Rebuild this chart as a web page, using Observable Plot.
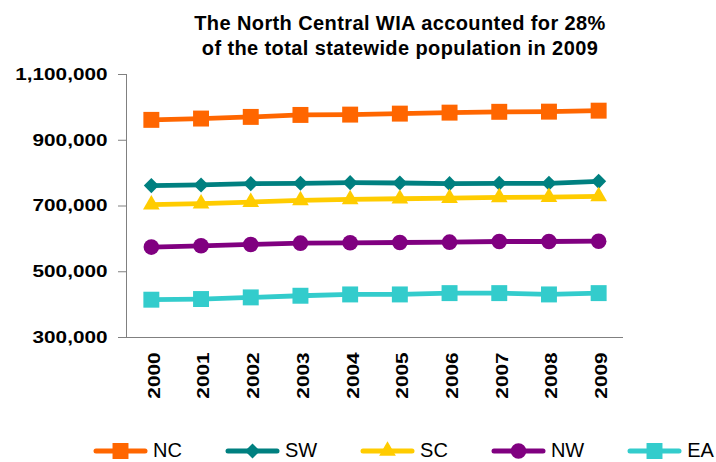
<!DOCTYPE html>
<html><head><meta charset="utf-8">
<script src="https://cdn.jsdelivr.net/npm/d3@7"></script>
<script src="https://cdn.jsdelivr.net/npm/@observablehq/plot@0.6"></script>
<style>
html,body{margin:0;padding:0;background:#fff;}
body{width:716px;height:462px;overflow:hidden;font-family:"Liberation Sans",Arial,sans-serif;color:#000;}
#title{height:60px;box-sizing:border-box;padding-top:11px;padding-left:84px;text-align:center;font-weight:bold;font-size:20px;line-height:25px;letter-spacing:0.4px;}
#chart{height:370px;}
#legend{height:32px;display:flex;gap:43px;padding-left:93px;align-items:center;box-sizing:border-box;padding-top:9px;}
.item{display:flex;align-items:center;font-size:20px;}
.item span{margin-left:5px;}
</style></head><body>
<div id="title">The North Central WIA accounted for 28%<br>of the total statewide population in 2009</div>
<div id="chart"></div>
<div id="legend"></div>
<script>
const years = [2000, 2001, 2002, 2003, 2004, 2005, 2006, 2007, 2008, 2009];
const NC = [962000, 966000, 971000, 977000, 978000, 981000, 984000, 986500, 987000, 990000];
const SW = [762000, 764000, 768000, 769000, 771000, 770000, 768000, 769000, 769000, 775000];
const SC = [704000, 707000, 712000, 717000, 720000, 722000, 724000, 726000, 727000, 729000];
const NW = [575000, 579000, 583000, 587000, 588000, 589000, 590000, 592000, 592000, 593000];
const EA = [415000, 417000, 422000, 427000, 431000, 431000, 435000, 435000, 431000, 435000];
const seriesNames = ["NC", "SW", "SC", "NW", "EA"];
const seriesValues = [NC, SW, SC, NW, EA];
const seriesColors = ["#FF6600", "#008080", "#FFCC00", "#800080", "#33CCCC"];
const seriesSymbols = ["square", "diamond2", "triangle", "circle", "square"];
const seriesR = [9, 6.8, 6.2, 7.8, 9];
const yTicks = [300000, 500000, 700000, 900000, 1100000];

const rows = seriesNames.flatMap((s, i) => years.map((yr, j) => ({series: s, year: yr, value: seriesValues[i][j]})));

const plot = Plot.plot({
  width: 716, height: 370,
  marginLeft: 126, marginRight: 93, marginTop: 14, marginBottom: 93,
  style: {fontFamily: "'Liberation Sans', Arial, sans-serif", background: "#fff", color: "#000", overflow: "visible"},
  x: {domain: [1999.5, 2009.5]},
  y: {domain: [300000, 1100000]},
  color: {domain: seriesNames, range: seriesColors},
  marks: [
    Plot.ruleX([1999.5], {stroke: "#808080"}),
    Plot.ruleY([300000], {stroke: "#808080"}),
    Plot.axisY({ticks: yTicks, tickFormat: d3.format(","), tickSize: 8, tickPadding: 11, stroke: "#808080", fontSize: 17, fontWeight: "bold", label: null}),
    Plot.axisX({ticks: years, tickFormat: d => String(d), tickSize: 0, tickRotate: -90, tickPadding: 15, dx: 3, fontSize: 17, fontWeight: "bold", label: null}),
    Plot.line(rows, {x: "year", y: "value", z: "series", stroke: "series", strokeWidth: 4.8, strokeLinejoin: "round"}),
    ...seriesNames.map((s, i) => Plot.dot(rows.filter(d => d.series === s), {x: "year", y: "value", symbol: seriesSymbols[i], r: seriesR[i], fill: seriesColors[i], stroke: "none"}))
  ]
});
plot.querySelectorAll('g[aria-label="y-axis tick label"] text, g[aria-label="x-axis tick label"] text').forEach(t => {
  const tr = t.getAttribute("transform");
  if (tr) t.setAttribute("transform", tr + " scale(1.22,1)");
});
document.getElementById("chart").appendChild(plot);

const symMap = {square: d3.symbolSquare, diamond2: d3.symbolDiamond2, triangle: d3.symbolTriangle, circle: d3.symbolCircle};
const legend = d3.select("#legend");
seriesNames.forEach((s, i) => {
  const item = legend.append("div").attr("class", "item");
  const svg = item.append("svg").attr("width", 55).attr("height", 24);
  svg.append("line").attr("x1", 3).attr("x2", 52).attr("y1", 12).attr("y2", 12)
    .attr("stroke", seriesColors[i]).attr("stroke-width", 5).attr("stroke-linecap", "round");
  svg.append("path").attr("transform", "translate(27.5,12)")
    .attr("d", d3.symbol(symMap[seriesSymbols[i]], Math.PI * seriesR[i] * seriesR[i])())
    .attr("fill", seriesColors[i]);
  item.append("span").text(s);
});
</script>
</body></html>
